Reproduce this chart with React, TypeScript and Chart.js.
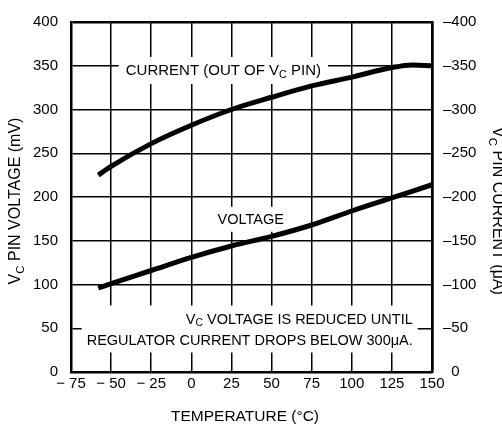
import React, { useEffect, useRef } from 'react';
import { Chart, registerables } from 'chart.js';

Chart.register(...registerables);

// ---- data ----
const currentTemps = [-58, -50, -25, 0, 25, 50, 75, 100, 125, 138, 150];
const currentValues = [225, 235, 261, 282, 300, 314, 327, 337, 348, 351, 350];
const voltageTemps = [-58, -50, -25, 0, 25, 50, 75, 100, 125, 150];
const voltageValues = [96, 101, 116, 131, 144, 155, 168, 184, 199, 214];

const xMin = -75;
const xMax = 150;
const xStep = 25;
const yMin = 0;
const yMax = 400;
const yStep = 50;

const FONT = "'Liberation Sans', Arial, Helvetica, sans-serif";

type Seg = { t: string; sub?: boolean };

function segWidth(ctx: CanvasRenderingContext2D, segs: Seg[], size: number) {
  let w = 0;
  for (const s of segs) {
    ctx.font = `${s.sub ? size * 0.72 : size}px ${FONT}`;
    w += ctx.measureText(s.t).width;
  }
  return w;
}

function drawRich(
  ctx: CanvasRenderingContext2D,
  segs: Seg[],
  x: number,
  y: number,
  size: number,
  align: 'left' | 'center' | 'right'
) {
  const w = segWidth(ctx, segs, size);
  let cx = align === 'left' ? x : align === 'center' ? x - w / 2 : x - w;
  ctx.textAlign = 'left';
  ctx.textBaseline = 'middle';
  ctx.fillStyle = '#000';
  for (const s of segs) {
    const fs = s.sub ? size * 0.72 : size;
    ctx.font = `${fs}px ${FONT}`;
    ctx.fillText(s.t, cx, s.sub ? y + size * 0.28 : y);
    cx += ctx.measureText(s.t).width;
  }
  return w;
}

const currentLabel: Seg[] = [{ t: 'CURRENT (OUT OF V' }, { t: 'C', sub: true }, { t: ' PIN)' }];
const voltageLabel: Seg[] = [{ t: 'VOLTAGE' }];
const noteLine1: Seg[] = [{ t: 'V' }, { t: 'C', sub: true }, { t: ' VOLTAGE IS REDUCED UNTIL' }];
const noteLine2: Seg[] = [{ t: 'REGULATOR CURRENT DROPS BELOW 300\u03bcA.' }];
const leftTitle: Seg[] = [{ t: 'V' }, { t: 'C', sub: true }, { t: ' PIN VOLTAGE (mV)' }];
const rightTitle: Seg[] = [{ t: 'V' }, { t: 'C', sub: true }, { t: ' PIN CURRENT (\u03bcA)' }];
const bottomTitle: Seg[] = [{ t: 'TEMPERATURE (\u00b0C)' }];

const annotationPlugin = {
  id: 'annotations',
  beforeDatasetsDraw(chart: any) {
    const ctx: CanvasRenderingContext2D = chart.ctx;
    const xs = chart.scales.x;
    const ys = chart.scales.y;
    ctx.save();
    // box behind CURRENT label
    {
      const cx = xs.getPixelForValue(20);
      const cy = ys.getPixelForValue(344);
      const w = segWidth(ctx, currentLabel, 15);
      ctx.fillStyle = '#fff';
      ctx.fillRect(cx - w / 2 - 7, cy - 14, w + 14, 27);
    }
    // box behind VOLTAGE label
    {
      const cx = xs.getPixelForValue(37);
      const cy = ys.getPixelForValue(174);
      const w = segWidth(ctx, voltageLabel, 14.5);
      ctx.fillStyle = '#fff';
      ctx.fillRect(cx - w / 2 - 7, cy - 13, w + 14, 25);
    }
    // box behind note
    {
      const rx = xs.getPixelForValue(138);
      const y1 = ys.getPixelForValue(60);
      const y2 = ys.getPixelForValue(36);
      const w = Math.max(segWidth(ctx, noteLine1, 14.5), segWidth(ctx, noteLine2, 14.5));
      ctx.fillStyle = '#fff';
      ctx.fillRect(rx - w - 5, y1 - 14, w + 10, y2 - y1 + 26);
    }
    ctx.restore();
  },
  afterDraw(chart: any) {
    const ctx: CanvasRenderingContext2D = chart.ctx;
    const xs = chart.scales.x;
    const ys = chart.scales.y;
    ctx.save();
    drawRich(ctx, currentLabel, xs.getPixelForValue(20), ys.getPixelForValue(344), 15, 'center');
    drawRich(ctx, voltageLabel, xs.getPixelForValue(37), ys.getPixelForValue(174), 14.5, 'center');
    drawRich(ctx, noteLine1, xs.getPixelForValue(138), ys.getPixelForValue(60), 14.5, 'right');
    drawRich(ctx, noteLine2, xs.getPixelForValue(138), ys.getPixelForValue(36), 14.5, 'right');

    // axis titles
    drawRich(ctx, bottomTitle, 245, 417, 15.5, 'center');

    ctx.save();
    ctx.translate(16, 201);
    ctx.rotate(-Math.PI / 2);
    drawRich(ctx, leftTitle, 0, 0, 16, 'center');
    ctx.restore();

    ctx.save();
    ctx.translate(497, 211);
    ctx.rotate(Math.PI / 2);
    drawRich(ctx, rightTitle, 0, 0, 16, 'center');
    ctx.restore();

    ctx.restore();
  },
};

export default function App() {
  const ref = useRef<HTMLCanvasElement | null>(null);

  useEffect(() => {
    if (!ref.current) return;
    Chart.defaults.font.family = FONT;
    Chart.defaults.color = '#000';

    const chart = new Chart(ref.current, {
      type: 'line',
      data: {
        datasets: [
          {
            label: 'Current',
            data: currentTemps.map((t, i) => ({ x: t, y: currentValues[i] })),
            yAxisID: 'y2',
            borderColor: '#000',
            borderWidth: 5,
            pointRadius: 0,
            cubicInterpolationMode: 'monotone',
            fill: false,
          },
          {
            label: 'Voltage',
            data: voltageTemps.map((t, i) => ({ x: t, y: voltageValues[i] })),
            yAxisID: 'y',
            borderColor: '#000',
            borderWidth: 5,
            pointRadius: 0,
            cubicInterpolationMode: 'monotone',
            fill: false,
          },
        ],
      },
      options: {
        animation: false,
        responsive: false,
        devicePixelRatio: 1,
        layout: { padding: { top: 17, left: 0, right: 0, bottom: 0 } },
        plugins: {
          legend: { display: false },
          tooltip: { enabled: false },
        },
        scales: {
          x: {
            type: 'linear',
            min: xMin,
            max: xMax,
            afterFit: (s: any) => {
              s.height = 56;
            },
            ticks: {
              stepSize: xStep,
              padding: 3,
              font: { size: 15 },
              color: '#000',
              maxRotation: 0,
              callback: (v: any) => (v < 0 ? '\u2212 ' + Math.abs(v) : String(v)),
            },
            grid: {
              color: '#000',
              lineWidth: (c: any) => (c.tick && c.tick.value === xMax ? 2.5 : 1.5),
              drawTicks: false,
            },
            border: { display: true, color: '#000', width: 2.5 },
          },
          y: {
            type: 'linear',
            position: 'left',
            min: yMin,
            max: yMax,
            afterFit: (s: any) => {
              s.width = 71;
            },
            ticks: {
              stepSize: yStep,
              padding: 13,
              font: { size: 15 },
              color: '#000',
            },
            grid: {
              color: '#000',
              lineWidth: (c: any) => (c.tick && c.tick.value === yMax ? 2.5 : 1.5),
              drawTicks: false,
            },
            border: { display: true, color: '#000', width: 2.5 },
          },
          y2: {
            type: 'linear',
            position: 'right',
            min: yMin,
            max: yMax,
            afterFit: (s: any) => {
              s.width = 70;
            },
            ticks: {
              stepSize: yStep,
              padding: 11,
              font: { size: 15 },
              color: '#000',
              callback: (v: any) => (v === 0 ? '  0' : '\u2013' + v),
            },
            grid: { display: false, drawTicks: false },
            border: { display: true, color: '#000', width: 2.5 },
          },
        },
      },
      plugins: [annotationPlugin],
    });

    return () => chart.destroy();
  }, []);

  return (
    <div
      style={{
        position: 'fixed',
        left: 0,
        top: 0,
        width: 502,
        height: 428,
        background: '#fff',
      }}
    >
      <canvas ref={ref} width={502} height={428} style={{ display: 'block' }} />
    </div>
  );
}
